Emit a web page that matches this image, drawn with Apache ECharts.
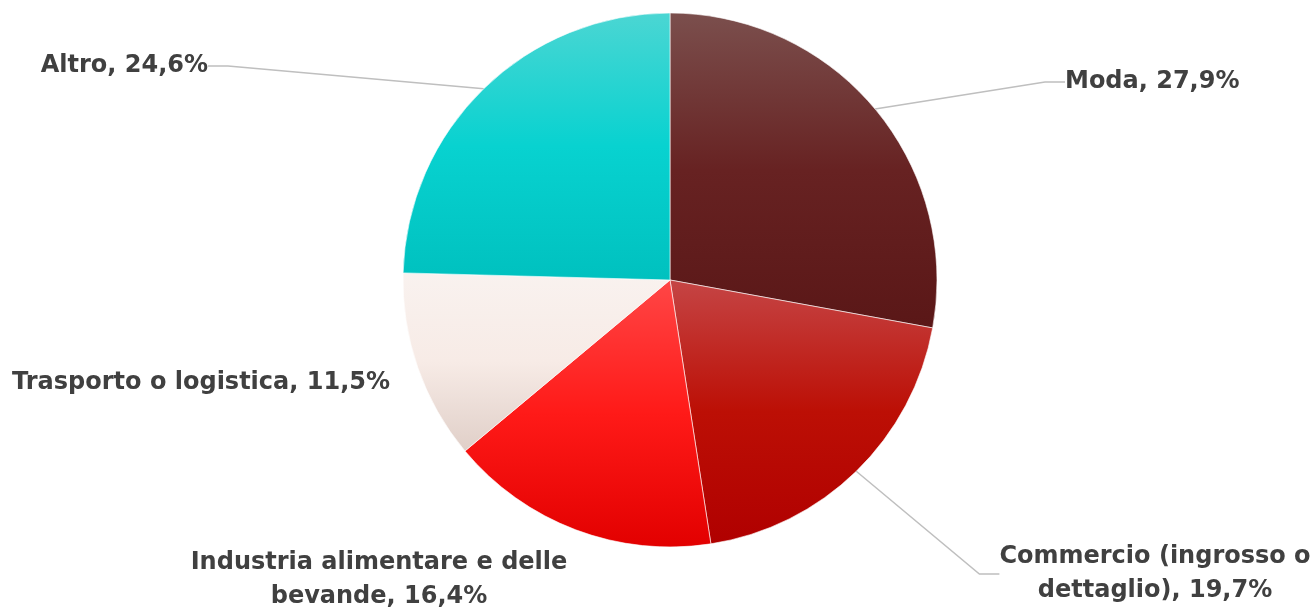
<!DOCTYPE html>
<html>
<head>
<meta charset="utf-8">
<script src="https://cdn.jsdelivr.net/npm/echarts@6/dist/echarts.min.js"></script>
<style>
html,body{margin:0;padding:0;background:#fff;}
#chart{width:1314px;height:611px;}
</style>
</head>
<body>
<div id="chart"></div>
<script>
// Data
const categories = ['Moda', 'Commercio (ingrosso o\ndettaglio)', 'Industria alimentare e delle\nbevande', 'Trasporto o logistica', 'Altro'];
const values = [27.9, 19.7, 16.4, 11.5, 24.6];

// Styling (per-slice vertical gradients)
const gradients = [
  ['#7b4f4d', '#672222', '#5a1717'],
  ['#c54545', '#bc0f05', '#b00000'],
  ['#ff4646', '#ff1a18', '#e20000'],
  ['#f9f2ef', '#f7ebe6', '#e0cfc8'],
  ['#4bd6d3', '#08d2d0', '#00c1bf']
];
const labelPos = [
  {x: 1065, y: 82, align: 'left'},
  {x: 1155, y: 574, align: 'center'},
  {x: 379, y: 580, align: 'center'},
  {x: 390, y: 383, align: 'right'},
  {x: 208, y: 66, align: 'right'}
];
const showLine = [true, true, false, false, true];

const chart = echarts.init(document.getElementById('chart'), null, {renderer: 'canvas'});
const data = categories.map((name, i) => ({
  name: name,
  value: values[i],
  itemStyle: {
    color: new echarts.graphic.LinearGradient(0, 0, 0, 1, [
      {offset: 0, color: gradients[i][0]},
      {offset: 0.5, color: gradients[i][1]},
      {offset: 1, color: gradients[i][2]}
    ])
  },
  labelLine: {show: showLine[i]}
}));

chart.setOption({
  animation: false,
  backgroundColor: '#ffffff',
  series: [{
    type: 'pie',
    center: [670, 280],
    radius: [0, 267],
    startAngle: 90,
    clockwise: true,
    avoidLabelOverlap: false,
    data: data,
    itemStyle: {borderColor: '#ffffff', borderWidth: 0.6},
    label: {
      show: true,
      position: 'outside',
      color: '#404040',
      fontFamily: 'DejaVu Sans',
      fontWeight: 'bold',
      fontSize: 24,
      lineHeight: 34,
      formatter: p => p.name + ', ' + String(p.value).replace('.', ',') + '%'
    },
    labelLine: {
      show: true,
      length: 20,
      length2: 20,
      lineStyle: {color: '#bfbfbf', width: 1.5}
    },
    labelLayout: function (params) {
      const lp = labelPos[params.dataIndex];
      return {x: lp.x, y: lp.y, align: lp.align, verticalAlign: 'middle'};
    }
  }]
});
</script>
</body>
</html>
